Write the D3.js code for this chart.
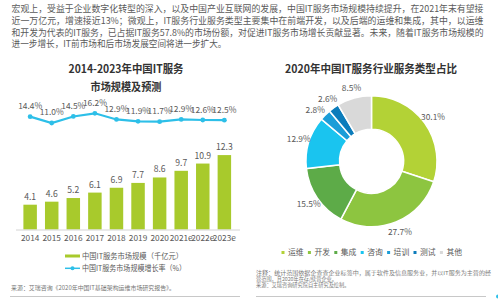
<!DOCTYPE html>
<html><head><meta charset="utf-8">
<script src="https://cdn.jsdelivr.net/npm/d3@7"></script>
<style>
html,body{margin:0;padding:0;background:#fff;}
svg{display:block;font-family:"Noto Sans CJK SC","Noto Sans",sans-serif;}
</style></head>
<body>
<svg id="c" width="498" height="301"></svg>
<script>
// ---------- data ----------
const paragraph = [
  "宏观上，受益于企业数字化转型的深入，以及中国产业互联网的发展，中国IT服务市场规模持续提升，在2021年末有望接",
  "近一万亿元，增速接近13%；微观上，IT服务行业服务类型主要集中在前端开发，以及后端的运维和集成，其中，以运维",
  "和开发为代表的IT服务，已占据IT服务57.8%的市场份额，对促进IT服务市场增长贡献显著。未来，随着IT服务市场规模的",
  "进一步增长，IT前市场和后市场发展空间将进一步扩大。"
];
const years = ["2014","2015","2016","2017","2018","2019","2020","2021e","2022e","2023e"];
const marketSize = [4.1, 4.6, 5.2, 6.1, 6.9, 7.7, 8.6, 9.7, 10.9, 12.3];
const growthRate = [14.4, 11.0, 14.5, 16.2, 12.9, 11.9, 11.7, 12.9, 12.6, 12.5];
const leftTitle = ["2014-2023年中国IT服务", "市场规模及预测"];
const leftLegend = ["中国IT服务市场规模（千亿元）", "中国IT服务市场规模增长率（%）"];
const leftSource = "来源：艾瑞咨询《2020年中国IT基础架构运维市场研究报告》。";

const pieTitle = "2020年中国IT服务行业服务类型占比";
const pieCats = ["运维","开发","集成","咨询","培训","测试","其他"];
const pieVals = [30.1, 27.7, 15.5, 12.9, 2.8, 2.6, 8.5];
const pieColors = ["#b3d236","#8dc540","#5dab48","#1ac4ef","#1b9dd8","#0c7cbb","#d9d9d9"];
const rightNotes = [
  "注释：统计范围依据企查查企业标签中，属于软件及信息服务业，并以IT服务为主营的经",
  "营范围，且2020年在存/续营企业。",
  "来源：艾瑞咨询研究院自主研究及绘制。"
];

const barColor = "#a8ca2c";
const lineColor = "#2dbfe8";
const txt = "#595959";

const svg = d3.select("#c");

// ---------- paragraph ----------
const pY = [11.5, 23.6, 35.6, 47.4];
const pLen = [472, 472, 472, 215];
svg.append("g").selectAll("text").data(paragraph).join("text")
  .attr("x", 11.5).attr("y", (d,i)=>pY[i])
  .attr("font-size", 9).attr("fill", "#5a5a5a")
  .attr("textLength", (d,i)=>pLen[i]).attr("lengthAdjust","spacingAndGlyphs")
  .text(d=>d);

// ---------- left chart ----------
const x = d3.scaleBand().domain(years).range([18, 236.5]).paddingInner(0.375).paddingOuter(0.25);
const yBar = d3.scaleLinear().domain([0, 14]).range([229.5, 229.5 - 14*6.05]);
const yLine = d3.scaleLinear().domain([0, 20]).range([143.5, 106.2]);

const tl = [115, 71];
svg.append("g").selectAll("text").data(leftTitle).join("text")
  .attr("x", 126).attr("y", (d,i)=>i===0?72.8:90.6)
  .attr("text-anchor","middle").attr("font-size", 11).attr("font-weight","bold").attr("fill","#333")
  .attr("textLength",(d,i)=>tl[i]).attr("lengthAdjust","spacingAndGlyphs")
  .text(d=>d);

// bars
svg.append("g").selectAll("rect").data(marketSize).join("rect")
  .attr("x",(d,i)=>x(years[i])).attr("width", x.bandwidth())
  .attr("y", d=>yBar(d)).attr("height", d=>yBar(0)-yBar(d))
  .attr("fill", barColor);
svg.append("g").selectAll("text").data(marketSize).join("text")
  .attr("x",(d,i)=>x(years[i])+x.bandwidth()/2).attr("y", d=>yBar(d)-5)
  .attr("text-anchor","middle").attr("font-size", 8.6).attr("fill", txt)
  .text(d=>d.toFixed(1));

// x axis
const xAxis = d3.axisBottom(x).tickSize(0).tickPadding(6);
const ax = svg.append("g").attr("transform", `translate(0,${yBar(0)})`).call(xAxis);
ax.select(".domain").attr("stroke","#d4d4d4").attr("d","M16,0.5H240");
ax.selectAll("text").attr("font-size", 8.3).attr("fill", txt)
  .attr("font-family","'Noto Sans CJK SC','Noto Sans',sans-serif");

// growth line
const cx = (d,i)=>x(years[i])+x.bandwidth()/2;
const line = d3.line().x(cx).y(d=>yLine(d));
svg.append("path").datum(growthRate).attr("d", line)
  .attr("fill","none").attr("stroke", lineColor).attr("stroke-width", 2.2);
svg.append("g").selectAll("circle").data(growthRate).join("circle")
  .attr("cx", cx).attr("cy", d=>yLine(d)).attr("r", 2.4).attr("fill", lineColor);
svg.append("g").selectAll("text").data(growthRate).join("text")
  .attr("x", cx).attr("y", d=>yLine(d)-7.5)
  .attr("text-anchor","middle").attr("font-size", 8.4).attr("fill", txt)
  .text(d=>d.toFixed(1)+"%");

// left legend
const lg = svg.append("g");
lg.append("rect").attr("x",65).attr("y",254.5).attr("width",15).attr("height",3).attr("fill",barColor);
lg.append("line").attr("x1",65).attr("x2",80).attr("y1",268.3).attr("y2",268.3).attr("stroke",lineColor).attr("stroke-width",1.5);
lg.append("circle").attr("cx",72.5).attr("cy",268.3).attr("r",2).attr("fill",lineColor);
lg.selectAll("text").data(leftLegend).join("text")
  .attr("x", 82).attr("y",(d,i)=>i===0?258.8:271.3)
  .attr("font-size", 7.6).attr("fill", txt)
  .attr("textLength",(d,i)=>i===0?101:104).attr("lengthAdjust","spacingAndGlyphs")
  .text(d=>d);

svg.append("text").attr("x",11).attr("y",289.6).attr("font-size",6).attr("fill","#777")
  .attr("textLength",164).attr("lengthAdjust","spacingAndGlyphs").text(leftSource);
svg.append("line").attr("x1",10).attr("x2",240).attr("y1",296.5).attr("y2",296.5).attr("stroke","#c8c8c8");

// ---------- right chart (donut) ----------
svg.append("text").attr("x",371).attr("y",72.8).attr("text-anchor","middle")
  .attr("font-size",11).attr("font-weight","bold").attr("fill","#333")
  .attr("textLength",172).attr("lengthAdjust","spacingAndGlyphs").text(pieTitle);

const pc = [371.5, 161.3];
const pie = d3.pie().sort(null).value(d=>d)(pieVals);
const arc = d3.arc().innerRadius(32).outerRadius(65.5);
const LR = 76;
const labelArc = d3.arc().innerRadius(LR).outerRadius(LR);
const pg = svg.append("g").attr("transform",`translate(${pc[0]},${pc[1]})`);
pg.selectAll("path").data(pie).join("path")
  .attr("d", arc).attr("fill",(d,i)=>pieColors[i])
  .attr("stroke","#fff").attr("stroke-width",1.5);

// label positions: on a circle at mid-angle, then de-overlap on the left side
const lab = pie.map(d=>{ const c = labelArc.centroid(d); return {d, x:c[0], y:c[1]}; });
const leftSide = lab.filter(l=>l.x < 0).sort((a,b)=>a.y-b.y);
for (let k=1; k<leftSide.length; k++){
  const prev = leftSide[k-1], cur = leftSide[k];
  if (cur.y < prev.y + 11){
    cur.y = prev.y + 11;
    cur.x = -Math.sqrt(Math.max(LR*LR - cur.y*cur.y, 0));
  }
}
pg.selectAll("text").data(lab).join("text")
  .attr("x", l=>l.x).attr("y", l=>l.y)
  .attr("dy","0.35em").attr("text-anchor","middle")
  .attr("font-size",8.4).attr("fill",txt)
  .text(l=>l.d.data.toFixed(1)+"%");

// right legend
const leg = svg.append("g").selectAll("g").data(pieCats).join("g")
  .attr("transform",(d,i)=>`translate(${283 + i*26.4},252.5)`);
leg.append("rect").attr("x",-1.5).attr("y",-1.5).attr("width",3).attr("height",3)
  .attr("fill",(d,i)=>pieColors[i]);
leg.append("text").attr("x",5).attr("y",2.8).attr("font-size",7.8).attr("fill",txt).text(d=>d);

svg.append("g").selectAll("text").data(rightNotes).join("text")
  .attr("x",256).attr("y",(d,i)=>275 + i*5.9)
  .attr("font-size",5.2).attr("fill","#777")
  .attr("textLength",(d,i)=>i===0?235:null).attr("lengthAdjust","spacingAndGlyphs")
  .text(d=>d);
svg.append("line").attr("x1",256).attr("x2",486).attr("y1",296.5).attr("y2",296.5).attr("stroke","#c8c8c8");
svg.append("circle").attr("cx",498).attr("cy",296.5).attr("r",2).attr("fill",lineColor);
</script>
</body></html>
